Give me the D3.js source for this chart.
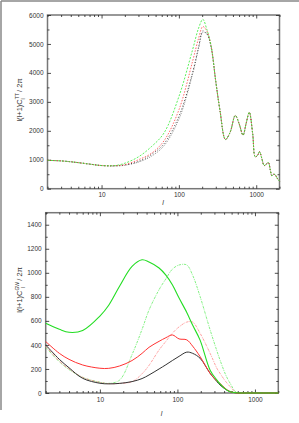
<!DOCTYPE html>
<html>
<head>
<meta charset="utf-8">
<style>
body { margin: 0; background: #fff; }
text { font-family: "Liberation Sans", Arial, sans-serif; fill: #333; }
.axis path { display: none; }
.axis line { stroke: #222; stroke-width: 0.8px; }
.axis text { font-size: 6.5px; }
.frame { fill: none; stroke: #777; stroke-width: 1.5px; }
.curve { fill: none; }
</style>
</head>
<body>
<script src="https://cdn.jsdelivr.net/npm/d3@7"></script>
<script>

// top panel: temperature spectrum
var ellTT = [2, 3, 4, 5, 7, 10, 15, 20, 30, 44, 64, 100, 150, 180, 204, 230, 260,
             300, 340, 400, 460, 536, 600, 675, 740, 813, 900, 971, 1040, 1102,
             1180, 1267, 1350, 1439, 1520, 1591, 1680, 1757, 1880, 2000];
var ttTail = [3700, 2700, 1700, 1950, 2530, 2250, 1850, 2250, 2640, 1900, 1100, 1150, 1280,
              1050, 800, 850, 900, 650, 450, 500, 480, 350, 260];
var ttBlack = [980, 960, 930, 900, 850, 800, 790, 820, 940, 1180, 1550, 2500, 4000, 4900, 5450, 5350, 4900];
var ttGray  = [980, 960, 930, 900, 850, 800, 785, 810, 920, 1120, 1480, 2400, 3950, 4850, 5400, 5350, 4950];
var ttRed   = [980, 960, 930, 900, 850, 800, 795, 830, 1000, 1220, 1650, 2720, 4390, 5200, 5600, 5450, 4950];
var ttGreen = [980, 960, 930, 900, 850, 800, 800, 880, 1100, 1450, 1920, 3180, 4790, 5550, 5850, 5500, 4950];

// bottom panel: gravity wave contribution
var ellGW = [2, 3, 4, 6, 10, 13, 18, 26, 35, 43, 58, 71, 86, 105, 132, 157, 196,
             264, 323, 354, 420, 479, 580, 800, 2000];
var gwGreen    = [580, 530, 505, 520, 640, 730, 890, 1053, 1108, 1090, 1040, 980, 900, 790, 670, 565, 440,
                  190, 108, 75, 30, 10, 2, 0, 0];
var gwGreenDot = [380, 260, 195, 130, 90, 80, 108, 320, 530, 690, 860, 950, 1030, 1065, 1065, 980, 803,
                  525, 350, 275, 150, 80, 5, 0, 0];
var gwRed      = [428, 330, 280, 233, 206, 205, 225, 270, 330, 380, 430, 460, 483, 450, 442, 390, 303,
                  164, 100, 80, 35, 11, 1, 0, 0];
var gwRedDot   = [390, 265, 200, 130, 88, 78, 80, 94, 160, 230, 358, 430, 497, 550, 590, 590, 497,
                  330, 205, 164, 95, 53, 3, 0, 0];
var gwBlack    = [400, 280, 210, 122, 81, 76, 80, 95, 120, 150, 200, 235, 270, 305, 340, 330, 289,
                  164, 95, 67, 30, 11, 1, 0, 0];

var majorX = [10, 100, 1000];
var minorX = [2, 3, 4, 5, 6, 7, 8, 9, 20, 30, 40, 50, 60, 70, 80, 90, 200, 300, 400, 500, 600, 700, 800, 900, 2000];

var W = 299, H = 423;
var svg = d3.select("body").append("svg").attr("width", W).attr("height", H);

// page edge lines
svg.append("line").attr("x1", 1).attr("x2", W).attr("y1", 1).attr("y2", 1)
   .attr("stroke", "#888").attr("stroke-width", 1.5);
svg.append("line").attr("x1", 1).attr("x2", 1).attr("y1", 1).attr("y2", 410)
   .attr("stroke", "#888").attr("stroke-width", 1.5);

function panel(opt) {
  var x = d3.scaleLog().domain([2, 2000]).range([opt.left, opt.right]);
  var y = d3.scaleLinear().domain([0, opt.ymax]).range([opt.bottom, opt.top]);
  var g = svg.append("g");

  g.append("rect").attr("class", "frame")
    .attr("x", opt.left).attr("y", opt.top)
    .attr("width", opt.right - opt.left).attr("height", opt.bottom - opt.top);

  // x ticks, bottom with labels
  g.append("g").attr("class", "axis").attr("transform", "translate(0," + opt.bottom + ")")
    .call(d3.axisBottom(x).tickValues(majorX).tickSize(-3.5).tickPadding(4).tickFormat(d3.format("d")));
  g.append("g").attr("class", "axis").attr("transform", "translate(0," + opt.bottom + ")")
    .call(d3.axisBottom(x).tickValues(minorX).tickSize(-2).tickFormat(""));
  g.append("g").attr("class", "axis").attr("transform", "translate(0," + opt.top + ")")
    .call(d3.axisTop(x).tickValues(majorX).tickSize(-3.5).tickFormat(""));
  g.append("g").attr("class", "axis").attr("transform", "translate(0," + opt.top + ")")
    .call(d3.axisTop(x).tickValues(minorX).tickSize(-2).tickFormat(""));

  // y ticks
  g.append("g").attr("class", "axis").attr("transform", "translate(" + opt.left + ",0)")
    .call(d3.axisLeft(y).tickValues(opt.yMajor).tickSize(-3.5).tickPadding(4).tickFormat(d3.format("d")));
  g.append("g").attr("class", "axis").attr("transform", "translate(" + opt.left + ",0)")
    .call(d3.axisLeft(y).tickValues(opt.yMinor).tickSize(-2).tickFormat(""));
  g.append("g").attr("class", "axis").attr("transform", "translate(" + opt.right + ",0)")
    .call(d3.axisRight(y).tickValues(opt.yMajor).tickSize(-3.5).tickFormat(""));
  g.append("g").attr("class", "axis").attr("transform", "translate(" + opt.right + ",0)")
    .call(d3.axisRight(y).tickValues(opt.yMinor).tickSize(-2).tickFormat(""));

  var line = d3.line()
    .x(function(d) { return x(d[0]); })
    .y(function(d) { return y(d[1]); })
    .curve(d3.curveCatmullRom.alpha(0.5));

  opt.series.forEach(function(s) {
    var pts = opt.ell.map(function(l, i) { return [l, s.values[i]]; });
    g.append("path").attr("class", "curve")
      .attr("d", line(pts))
      .attr("stroke", s.color)
      .attr("stroke-width", s.width || 1)
      .attr("stroke-dasharray", s.dash || null)
      .attr("opacity", s.opacity || 1);
  });

  // x label
  g.append("text").attr("x", (opt.left + opt.right) / 2 - 0.5).attr("y", opt.xlabY)
    .attr("text-anchor", "middle").style("font-size", "7px").style("font-style", "italic")
    .text("l");

  // y label
  var yl = g.append("text")
    .attr("transform", "translate(22," + opt.ylabY + ") rotate(-90)")
    .attr("text-anchor", "middle").style("font-size", "7.5px");
  yl.append("tspan").text("l(l+1)C");
  yl.append("tspan").attr("baseline-shift", "super").style("font-size", "5px").text(opt.sup);
  yl.append("tspan").attr("dx", -opt.sup.length * 3.2).attr("baseline-shift", "sub").style("font-size", "5px").text("l");
  yl.append("tspan").attr("dx", opt.sup.length * 2.2).text(" / 2\u03c0");
}

var ttTop = function(arr) { return arr.concat(ttTail); };

panel({
  left: 47.5, right: 279.5, top: 15, bottom: 188.7, ymax: 6000,
  yMajor: [0, 1000, 2000, 3000, 4000, 5000, 6000],
  yMinor: [500, 1500, 2500, 3500, 4500, 5500],
  ell: ellTT, sup: "TT", xlabY: 205, ylabY: 100,
  series: [
    { values: ttTop(ttGray),  color: "#999", dash: "1.2,1.2" },
    { values: ttTop(ttBlack), color: "#222", dash: "0.8,2.2" },
    { values: ttTop(ttRed),   color: "#f44", dash: "1.5,1.5", opacity: 0.8 },
    { values: ttTop(ttGreen), color: "#3e3", dash: "2,1.5", opacity: 0.8 }
  ]
});

panel({
  left: 45.7, right: 278.3, top: 212.7, bottom: 393, ymax: 1500,
  yMajor: [0, 200, 400, 600, 800, 1000, 1200, 1400],
  yMinor: [100, 300, 500, 700, 900, 1100, 1300, 1500],
  ell: ellGW, sup: "GW", xlabY: 416, ylabY: 290,
  series: [
    { values: gwGreenDot, color: "#6e6", dash: "2.5,1,0.8,1", opacity: 0.8 },
    { values: gwRedDot,   color: "#f88", dash: "2.5,1,0.8,1", opacity: 0.8 },
    { values: gwBlack,    color: "#333" },
    { values: gwRed,      color: "#f33" },
    { values: gwGreen,    color: "#2d2", width: 1.1 }
  ]
});

</script>
</body>
</html>
